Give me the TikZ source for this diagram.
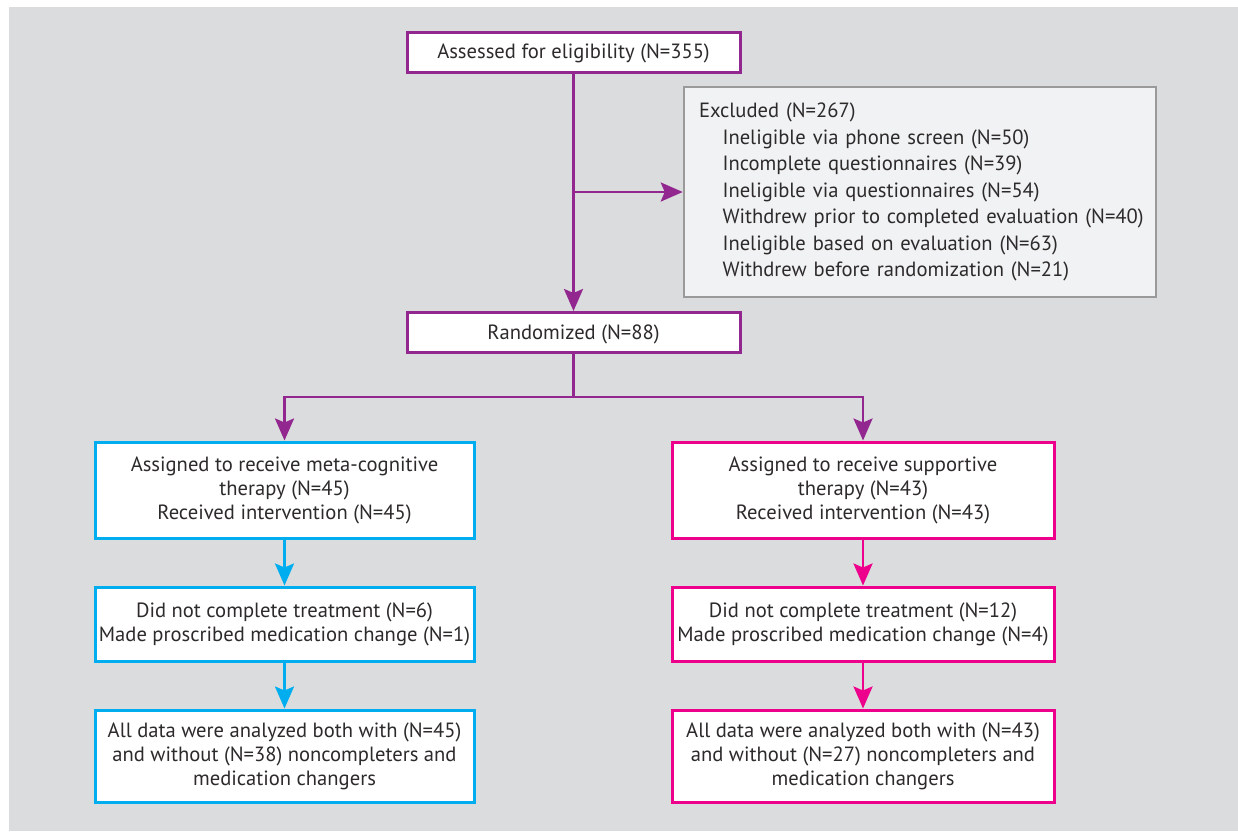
\documentclass[tikz,border=0pt]{standalone}
\usepackage{fontspec}
\setmainfont{PT Sans}
\usepackage{tikz}
\usetikzlibrary{arrows,arrows.meta,shapes}
\definecolor{bggrey}{HTML}{DBDCDE}
\definecolor{exclfill}{HTML}{F1F2F3}
\definecolor{exclgrey}{HTML}{9A9A9A}
\definecolor{purp}{HTML}{92278F}
\definecolor{cyanline}{HTML}{00AEEF}
\definecolor{magline}{HTML}{EC008C}
\definecolor{txt}{HTML}{2D2A2B}
\tikzstyle{box}=[rectangle,draw,line width=3pt,fill=white,inner sep=0pt,align=center,text=txt,font=\fontsize{20.6}{24}\selectfont]
\tikzstyle{purple box}=[box,draw=purp,minimum width=333pt,minimum height=40pt,text height=15pt,text depth=2pt]
\tikzstyle{blue box}=[box,draw=cyanline,minimum width=379pt]
\tikzstyle{pink box}=[box,draw=magline,minimum width=382pt]
\tikzstyle{excluded box}=[box,draw=exclgrey,line width=2.5pt,fill=exclfill,align=left,text width=442pt,minimum width=472pt,minimum height=210pt,font=\fontsize{20.6}{26.5}\selectfont]
\tikzstyle{edge}=[draw,line width=2.7pt,-{Stealth[length=22pt,width=19pt,inset=4pt]}]
\tikzstyle{purple edge}=[edge,purp]
\tikzstyle{blue edge}=[edge,cyanline]
\tikzstyle{pink edge}=[edge,magline]

\begin{document}
\begin{tikzpicture}[x=1pt,y=-1pt]
    % Grey backdrop
    \useasboundingbox (0,0) rectangle (1238,831);
    \fill[bggrey] (9,7) rectangle (1238,831);

    % Top of the chart
    \node[purple box] (assess) at (573.5,52) {Assessed for eligibility (N=355)};
    \node[excluded box] (excl) at (920,192) {Excluded (N=267)\\
        \hspace*{23.5pt}\mbox{Ineligible via phone screen (N=50)}\\
        \hspace*{23.5pt}\mbox{Incomplete questionnaires (N=39)}\\
        \hspace*{23.5pt}\mbox{Ineligible via questionnaires (N=54)}\\
        \hspace*{23.5pt}\mbox{Withdrew prior to completed evaluation (N=40)}\\
        \hspace*{23.5pt}\mbox{Ineligible based on evaluation (N=63)}\\
        \hspace*{23.5pt}\mbox{Withdrew before randomization (N=21)}};
    \node[purple box] (rand) at (573.5,332.5) {Randomized (N=88)};

    % The two arms
    \node[blue box,minimum height=96pt] (lassign) at (284.5,490) {Assigned to receive meta-cognitive\\ therapy (N=45)\\ Received intervention (N=45)};
    \node[blue box,minimum height=74pt] (ldrop) at (284.5,624) {Did not complete treatment (N=6)\\ Made proscribed medication change (N=1)};
    \node[blue box,minimum height=92pt] (lanal) at (284.5,756) {All data were analyzed both with (N=45)\\ and without (N=38) noncompleters and\\ medication changers};
    \node[pink box,minimum height=96pt] (rassign) at (863,490) {Assigned to receive supportive\\ therapy (N=43)\\ Received intervention (N=43)};
    \node[pink box,minimum height=74pt] (rdrop) at (863,624) {Did not complete treatment (N=12)\\ Made proscribed medication change (N=4)};
    \node[pink box,minimum height=92pt] (ranal) at (863,756) {All data were analyzed both with (N=43)\\ and without (N=27) noncompleters and\\ medication changers};

    % Connect boxes
    \coordinate (split) at (assess.south |- excl.west);
    \coordinate (fork) at (573.5,397);
    \path[purple edge] (assess) -- (rand);
    \path[purple edge] (split) -- (excl.west);
    \draw[purp,line width=2.7pt] (rand) -- (fork);
    \foreach \dest in {lassign, rassign}
        \path[purple edge] (fork) -| (\dest.north);
    \foreach \source/\dest in {lassign/ldrop, ldrop/lanal}
        \path[blue edge] (\source) -- (\dest);
    \foreach \source/\dest in {rassign/rdrop, rdrop/ranal}
        \path[pink edge] (\source) -- (\dest);
\end{tikzpicture}
\end{document}
